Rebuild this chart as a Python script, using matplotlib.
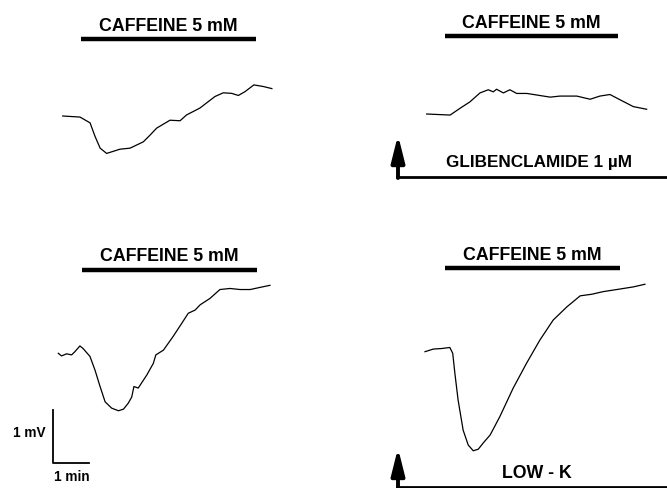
import numpy as np
import matplotlib.pyplot as plt

# membrane potential traces: time (min from trace start), potential (mV rel. to start)
t1 = [0, 0.48, 0.76, 0.90, 1.04, 1.22, 1.36, 1.59, 1.87, 2.24, 2.43, 2.61, 2.98, 3.26,
      3.44, 3.81, 4.23, 4.46, 4.69, 4.88, 5.06, 5.31, 5.57, 5.81]
v1 = [0, -0.02, -0.13, -0.39, -0.61, -0.71, -0.68, -0.63, -0.61, -0.49, -0.36, -0.23, -0.08, -0.09,
      0.02, 0.15, 0.37, 0.44, 0.43, 0.39, 0.46, 0.59, 0.56, 0.52]

t2 = [0, 0.65, 0.93, 1.20, 1.48, 1.71, 1.85, 1.94, 2.13, 2.31, 2.50, 2.78, 3.06, 3.43,
      3.70, 4.17, 4.54, 4.81, 5.09, 5.37, 5.74, 6.11]
v2 = [0, -0.02, 0.11, 0.23, 0.40, 0.46, 0.42, 0.47, 0.40, 0.46, 0.39, 0.39, 0.36, 0.32,
      0.34, 0.34, 0.28, 0.34, 0.37, 0.27, 0.14, 0.09]

t3 = [0, 0.09, 0.23, 0.37, 0.46, 0.60, 0.69, 0.88, 1.02, 1.16, 1.30, 1.48, 1.67, 1.81,
      1.94, 2.04, 2.10, 2.22, 2.46, 2.64, 2.71, 2.92, 3.19, 3.43, 3.61, 3.80, 3.94, 4.21,
      4.49, 4.77, 5.05, 5.33, 5.60, 5.88]
v3 = [0, -0.05, -0.01, -0.03, 0.03, 0.14, 0.09, -0.06, -0.32, -0.63, -0.92, -1.04, -1.09, -1.06,
      -0.95, -0.83, -0.63, -0.66, -0.41, -0.19, -0.03, 0.06, 0.32, 0.57, 0.76, 0.82, 0.92, 1.04,
      1.21, 1.23, 1.21, 1.21, 1.25, 1.29]

t4 = [0, 0.23, 0.46, 0.69, 0.77, 0.83, 0.92, 1.06, 1.20, 1.34, 1.48, 1.62, 1.81, 2.08,
      2.45, 2.82, 3.19, 3.56, 3.94, 4.31, 4.63, 4.95, 5.33, 5.79, 6.11]
v4 = [0, 0.05, 0.06, 0.08, -0.03, -0.41, -0.92, -1.49, -1.77, -1.88, -1.85, -1.73, -1.58, -1.23,
      -0.69, -0.22, 0.22, 0.60, 0.85, 1.06, 1.09, 1.14, 1.18, 1.23, 1.28]

# caffeine application (start, end in min; level in mV) for each trace
caf_on = [0.50, 0.51, 0.65, 0.56]
caf_off = [5.37, 5.31, 5.51, 5.42]
caf_lvl = [1.46, 1.48, 1.59, 1.58]
caf_label = "CAFFEINE 5 mM"

# layout (pixels)
PX_MIN = 36.0
PX_MV = 52.7
origins = [(62.7, 116), (426.7, 114), (58.3, 353.3), (425, 351.7)]
traces = [(t1, v1), (t2, v2), (t3, v3), (t4, v4)]

plt.rcParams['font.family'] = ['Liberation Sans', 'DejaVu Sans']

fig = plt.figure(figsize=(6.67, 4.88), dpi=100)
ax = fig.add_axes([0, 0, 1, 1])
ax.set_xlim(0, 667)
ax.set_ylim(488, 0)
ax.axis('off')

for i in range(4):
    x0, y0 = origins[i]
    t, v = traces[i]
    ax.plot(x0 + np.array(t) * PX_MIN, y0 - np.array(v) * PX_MV, color='k', lw=0.9)
    bx = [x0 + caf_on[i] * PX_MIN, x0 + caf_off[i] * PX_MIN]
    by = y0 - caf_lvl[i] * PX_MV
    ax.plot(bx, [by, by], color='k', lw=3.2, solid_capstyle='butt')
    ax.text((bx[0] + bx[1]) / 2, by - 13, caf_label, ha='center', va='center',
            fontsize=12.8, fontweight='bold')

# drug applications (arrow + line)
arrow = dict(arrowstyle='-|>,head_length=0.8,head_width=0.2', lw=2.8, color='k',
             mutation_scale=20, shrinkA=0, shrinkB=0)
ax.annotate('', xy=(398, 135), xytext=(398, 178), arrowprops=arrow)
ax.plot([396.6, 667], [177, 177], color='k', lw=2)
ax.text(539, 163, "GLIBENCLAMIDE 1 \u00b5M", ha='center', va='center',
        fontsize=12.3, fontweight='bold')

ax.annotate('', xy=(398, 448), xytext=(398, 490), arrowprops=arrow)
ax.plot([396.6, 667], [486.5, 486.5], color='k', lw=2)
ax.text(537, 473, "LOW - K", ha='center', va='center', fontsize=12.8, fontweight='bold')

# scale bar: 1 mV, 1 min
sx, sy = 53.3, 462.7
ax.plot([sx, sx, sx + 1 * PX_MIN], [sy - 1 * PX_MV, sy, sy], color='k', lw=1.3)
ax.text(29, 433, "1 mV", ha='center', va='center', fontsize=9.8, fontweight='bold')
ax.text(72, 477, "1 min", ha='center', va='center', fontsize=9.8, fontweight='bold')

plt.savefig("out.png", dpi=100)
